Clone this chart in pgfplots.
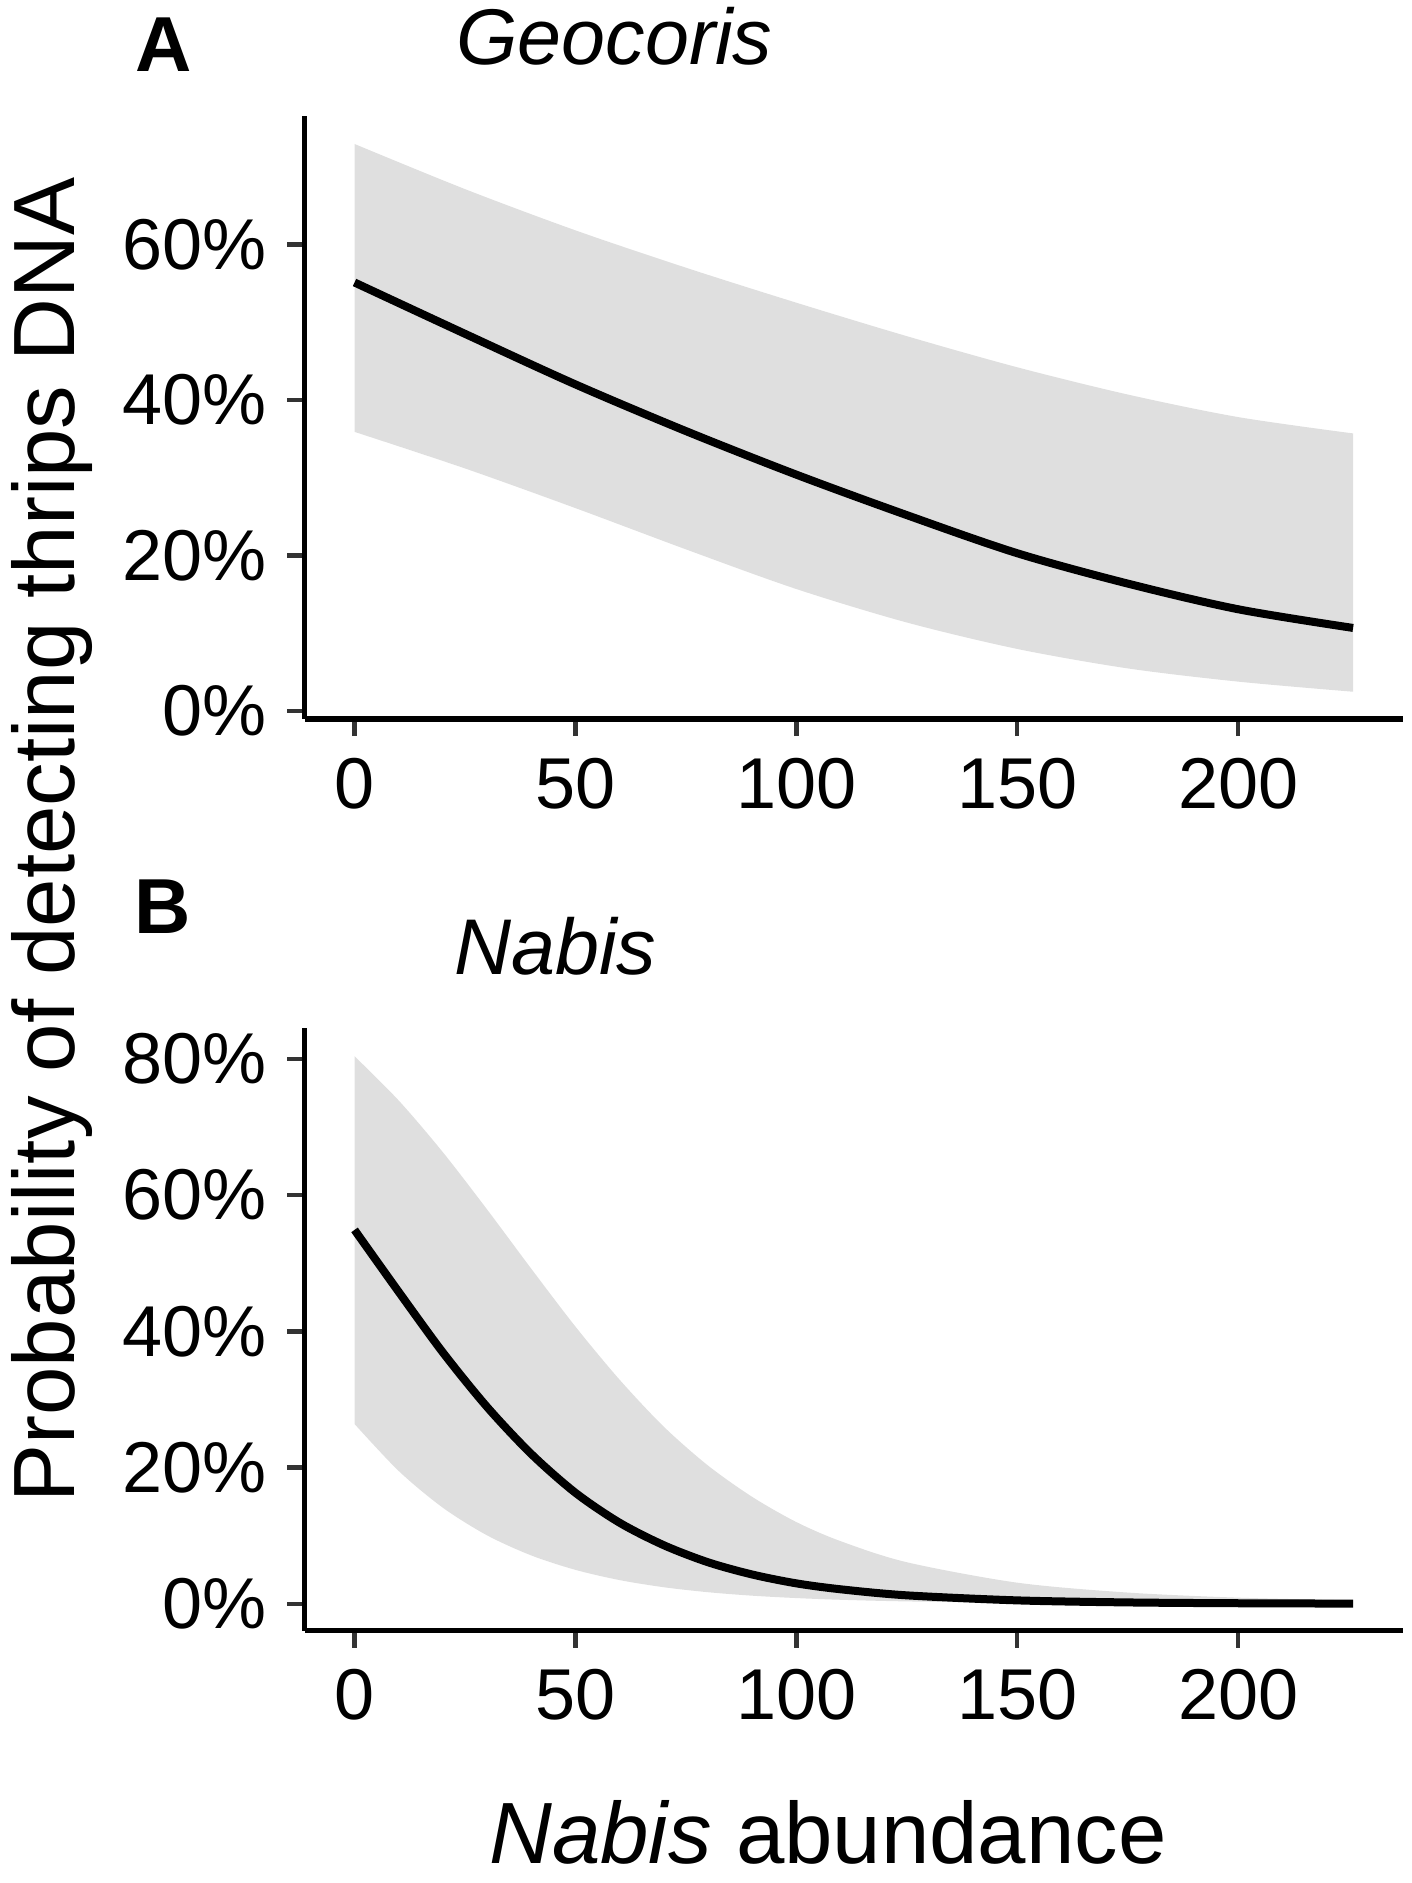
\documentclass[border=0pt]{standalone}
\usepackage{pgfplots}
\pgfplotsset{compat=1.18}
\usepgfplotslibrary{fillbetween}
\usepackage{fontspec}
\setmainfont{Liberation Sans}
\definecolor{bandgray}{RGB}{223,223,223}
\definecolor{tickgray}{RGB}{51,51,51}

\pgfplotstableread{
x mean upper lower
0   55.1 72.9 35.9
25  48.5 67.1 31.2
50  42.0 61.8 26.1
75  36.0 57.0 20.8
100 30.4 52.5 15.7
125 25.2 48.2 11.4
150 20.3 44.2 8.0
175 16.4 40.7 5.5
200 13.1 37.8 3.8
226 10.7 35.7 2.5
}\geocoris

\pgfplotstableread{
x mean upper lower
0   54.9 80.4 26.4
10  45.8 73.9 19.5
20  36.9 66.3 14.1
30  28.9 57.9 10.05
40  22.0 49.2 7.1
50  16.3 40.7 4.98
60  11.9 32.9 3.48
70  8.6  26.0 2.43
80  6.1  20.3 1.70
90  4.3  15.7 1.19
100 3.0  12.0 0.84
110 2.13 9.2  0.59
125 1.24 6.1  0.35
150 0.50 3.1  0.15
175 0.20 1.65 0.066
200 0.08 0.90 0.03
226 0.03 0.50 0.013
}\nabis

\pgfplotsset{
  panel/.style={
    scale only axis,
    width=549.2pt,
    xmin=-11.3, xmax=237.3,
    axis lines*=left,
    axis line style={line width=2.8pt, black, -},
    tick align=outside,
    tick pos=left,
    major tick length=8.6pt,
    tick style={line width=2.2pt, tickgray},
    xtick={0,50,100,150,200},
    xticklabels={0,50,100,150,200},
    ticklabel style={font=\fontsize{36}{36}\selectfont, inner sep=0pt},
    xticklabel style={anchor=base, yshift=-36pt},
    yticklabel style={anchor=east, xshift=-10pt},
    clip=false,
  }
}

\begin{document}
\begin{tikzpicture}

\begin{axis}[panel,
  at={(152.3pt,582pt)}, anchor=south west,
  height=301.5pt,
  ymin=-1.0, ymax=76.5,
  ytick={0,20,40,60},
  yticklabels={0\%,20\%,40\%,60\%},
]
\addplot[name path=upA, draw=none, smooth] table[x=x, y=upper] {\geocoris};
\addplot[name path=loA, draw=none, smooth] table[x=x, y=lower] {\geocoris};
\addplot[fill=bandgray, draw=none] fill between[of=upA and loA];
\addplot[black, line width=4pt, smooth] table[x=x, y=mean] {\geocoris};
\end{axis}

\begin{axis}[panel,
  at={(152.3pt,126.15pt)}, anchor=south west,
  height=301.35pt,
  ymin=-3.95, ymax=84.55,
  ytick={0,20,40,60,80},
  yticklabels={0\%,20\%,40\%,60\%,80\%},
]
\addplot[name path=upB, draw=none, smooth] table[x=x, y=upper] {\nabis};
\addplot[name path=loB, draw=none, smooth] table[x=x, y=lower] {\nabis};
\addplot[fill=bandgray, draw=none] fill between[of=upB and loB];
\addplot[black, line width=4pt, smooth] table[x=x, y=mean] {\nabis};
\end{axis}

\node[anchor=base west, inner sep=0pt, font=\fontsize{39}{39}\selectfont\bfseries] at (67.5pt,905.65pt) {A};
\node[anchor=base west, inner sep=0pt, font=\fontsize{39.5}{39.5}\selectfont\itshape] at (228pt,909pt) {Geocoris};
\node[anchor=base west, inner sep=0pt, font=\fontsize{39}{39}\selectfont\bfseries] at (67pt,474.5pt) {B};
\node[anchor=base west, inner sep=0pt, font=\fontsize{39.5}{39.5}\selectfont\itshape] at (227pt,454pt) {Nabis};
\node[rotate=90, anchor=base, inner sep=0pt, font=\fontsize{43.5}{43.5}\selectfont] at (37pt,521.5pt) {Probability of detecting thrips DNA};
\node[anchor=base, inner sep=0pt, font=\fontsize{43.5}{43.5}\selectfont] at (414pt,9.5pt) {\textit{Nabis} abundance};
\path (0,0) rectangle (706pt,941.5pt);
\end{tikzpicture}
\end{document}
